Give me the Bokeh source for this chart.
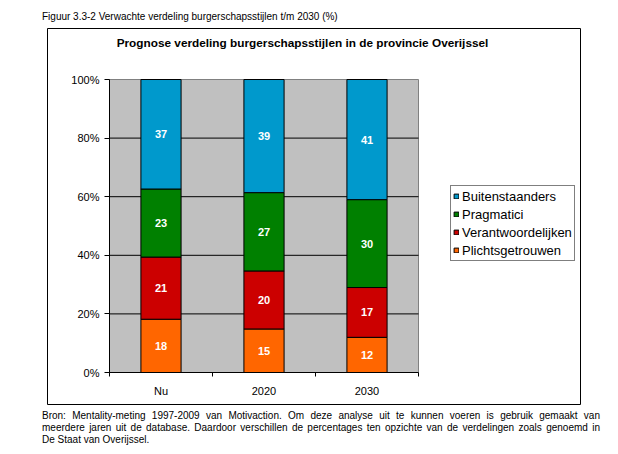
from bokeh.plotting import figure
from bokeh.models import (ColumnDataSource, Range1d, FixedTicker, PrintfTickFormatter,
                          Legend, LegendItem, Div, Label)
from bokeh.layouts import column
from bokeh.core.properties import value
from bokeh.embed import file_html
from bokeh.resources import INLINE

# ---- data ----
categories = ["Nu", "2020", "2030"]
series = ["Plichtsgetrouwen", "Verantwoordelijken", "Pragmatici", "Buitenstaanders"]
plichtsgetrouwen = [18, 15, 12]
verantwoordelijken = [21, 20, 17]
pragmatici = [23, 27, 30]
buitenstaanders = [37, 39, 41]
colors = ["#FF6600", "#CC0000", "#008000", "#0099CC"]
y_ticks = [0, 20, 40, 60, 80, 100]

caption = "Figuur 3.3-2 Verwachte verdeling burgerschapsstijlen t/m 2030 (%)"
title = "Prognose verdeling burgerschapsstijlen in de provincie Overijssel"
footer_lines = [
    "Bron: Mentality-meting 1997-2009 van Motivaction. Om deze analyse uit te kunnen voeren is gebruik gemaakt van",
    "meerdere jaren uit de database. Daardoor verschillen de percentages ten opzichte van de verdelingen zoals genoemd in",
    "De Staat van Overijssel.",
]

FONT = "Liberation Sans"

values = [plichtsgetrouwen, verantwoordelijken, pragmatici, buitenstaanders]
n = len(categories)
totals = [sum(v[i] for v in values) for i in range(n)]
xs = [i + 0.5 for i in range(n)]
data = {"x": xs}
for name, vals in zip(series, values):
    data[name] = [v / t * 100 for v, t in zip(vals, totals)]
src = ColumnDataSource(data)

lx, ly, lt = [], [], []
for i in range(n):
    bottom = 0.0
    for name, vals in zip(series, values):
        share = data[name][i]
        lx.append(xs[i])
        ly.append(bottom + share / 2)
        lt.append(str(vals[i]))
        bottom += share
lsrc = ColumnDataSource(dict(x=lx, y=ly, t=lt))

# ---- figure: the frame is the whole chart box; the plot area sits inside it ----
# plot area 0..n x 0..100 maps to page pixels 109..418 x 372..79 (103 px/category, 2.93 px/%)
x_lo = -62 / 103
x_hi = n + 162 / 103
y_lo = -32 / 2.93
y_hi = 100 + 51 / 2.93

p = figure(width=610, height=388, output_backend="svg", toolbar_location=None,
           x_range=Range1d(x_lo, x_hi), y_range=Range1d(y_lo, y_hi),
           min_border_left=47, min_border_right=30, min_border_top=6, min_border_bottom=6,
           margin=0)
p.background_fill_color = "white"
p.border_fill_color = "white"
p.outline_line_color = "black"
p.outline_line_width = 1
p.grid.visible = False

# plot area background and gridlines
p.quad(left=[0], right=[n], bottom=[y_ticks[0]], top=[y_ticks[-1]],
       fill_color="#C0C0C0", line_color="#808080", line_width=1, level="underlay")
p.segment(x0=[0] * 4, x1=[n] * 4, y0=y_ticks[1:-1], y1=y_ticks[1:-1],
          line_color="black", line_width=1, level="underlay")

renderers = p.vbar_stack(series, x="x", width=0.39, fill_color=colors,
                         line_color="black", line_width=1, source=src)

p.text(x="x", y="y", text="t", source=lsrc, text_color="white",
       text_font=value(FONT), text_font_style="bold", text_font_size="11px",
       text_align="center", text_baseline="middle")

# y axis at x = 0
ya = p.yaxis[0]
ya.fixed_location = 0
ya.bounds = (y_ticks[0], y_ticks[-1])
ya.ticker = FixedTicker(ticks=y_ticks)
ya.formatter = PrintfTickFormatter(format="%d%%")
ya.axis_line_color = "black"
ya.major_tick_line_color = "black"
ya.major_tick_out = 5
ya.major_tick_in = 0
ya.minor_tick_line_color = None
ya.major_label_text_font = FONT
ya.major_label_text_font_size = "11px"
ya.major_label_text_color = "black"
ya.major_label_standoff = 5

# x axis at y = 0: labels at category centres, ticks at boundaries
xa = p.xaxis[0]
xa.fixed_location = 0
xa.bounds = (0, n)
xa.ticker = FixedTicker(ticks=xs, minor_ticks=list(range(n + 1)))
xa.major_label_overrides = {x: c for x, c in zip(xs, categories)}
xa.axis_line_color = "black"
xa.major_tick_out = 0
xa.major_tick_in = 0
xa.minor_tick_out = 4
xa.minor_tick_in = 0
xa.minor_tick_line_color = "black"
xa.major_label_text_font = FONT
xa.major_label_text_font_size = "11px"
xa.major_label_text_color = "black"
xa.major_label_standoff = 8

# title inside the chart box
p.add_layout(Label(x=255, y=362, x_units="screen", y_units="screen", text=title,
                   text_font=FONT, text_font_size="11.8px", text_font_style="bold",
                   text_color="black", text_align="center", text_baseline="middle"))

# legend
items = [LegendItem(label=name, renderers=[r]) for name, r in reversed(list(zip(series, renderers)))]
legend = Legend(items=items, location=(403, 143))
legend.border_line_color = "black"
legend.border_line_width = 1
legend.background_fill_color = "white"
legend.background_fill_alpha = 1
legend.label_text_font = FONT
legend.label_text_font_size = "13px"
legend.label_text_color = "black"
legend.glyph_width = 6
legend.glyph_height = 6
legend.label_height = 16
legend.label_standoff = 3
legend.spacing = 2
legend.padding = 2
legend.margin = 0
p.add_layout(legend)

cap_html = ('<div style="padding-left:42px;padding-top:11px;font-family:\'Liberation Sans\';'
            f'font-size:10px;line-height:12px;color:#000;white-space:nowrap;">{caption}</div>')
cap_div = Div(text=cap_html, width=618, height=22, margin=0)

line_style = "text-align:justify;text-align-last:justify;"
html = ('<div style="margin-left:42px;width:558px;font-family:\'Liberation Sans\';'
        'font-size:10px;line-height:12px;color:#000;padding-top:0px;">'
        f'<div style="{line_style}">{footer_lines[0]}</div>'
        f'<div style="{line_style}">{footer_lines[1]}</div>'
        f'<div style="text-align:left;">{footer_lines[2]}</div>'
        '</div>')
footer = Div(text=html, width=618, height=40, margin=0)

layout = column(cap_div, p, footer, spacing=0, margin=0)
open("out.html", "w").write(file_html(layout, INLINE))
